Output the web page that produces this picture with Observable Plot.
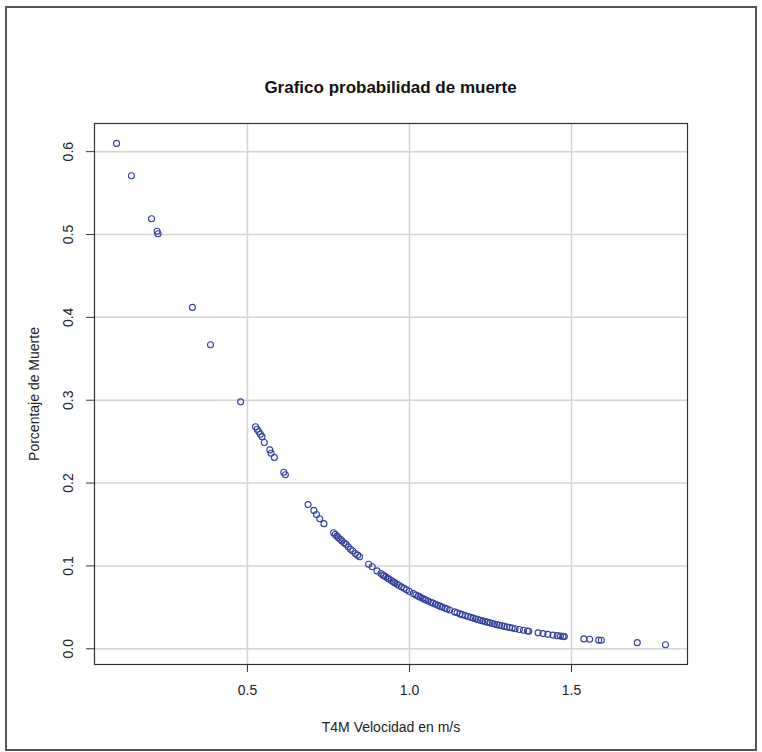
<!DOCTYPE html>
<html>
<head>
<meta charset="utf-8">
<script src="https://cdn.jsdelivr.net/npm/d3@7"></script>
<script src="https://cdn.jsdelivr.net/npm/@observablehq/plot@0.6"></script>
<style>
  html, body { margin: 0; padding: 0; background: #fff; }
  #wrap { position: relative; width: 762px; height: 752px; overflow: hidden; background: #fff; }
  #border { position: absolute; left: 5px; top: 6px; width: 748px; height: 741px; border: 2px solid #555; pointer-events: none; }
  #title { position: absolute; left: 94px; width: 593px; top: 78px; line-height: 20px; text-align: center;
           font-family: "Liberation Sans", Arial, sans-serif; font-weight: bold; font-size: 17px; color: #111; }
</style>
</head>
<body>
<div id="wrap">
  <div id="chart"></div>
  <div id="title"></div>
  <div id="border"></div>
</div>
<script>
const titulo = "Grafico probabilidad de muerte";
const xLabel = "T4M Velocidad en m/s";
const yLabel = "Porcentaje de Muerte";
const xTicks = [0.5, 1.0, 1.5];
const yTicks = [0.0, 0.1, 0.2, 0.3, 0.4, 0.5, 0.6];

const velocidad = [
  0.096, 0.142, 0.204, 0.221, 0.224, 0.330, 0.386, 0.479,
  0.525, 0.530, 0.535, 0.540, 0.545, 0.552, 0.569, 0.573, 0.583, 0.612, 0.617,
  0.687, 0.705, 0.713, 0.723, 0.736,
  0.766, 0.771, 0.776, 0.781, 0.787, 0.792, 0.798, 0.804, 0.811, 0.818, 0.825, 0.833, 0.840, 0.846,
  0.874, 0.885, 0.900,
  0.912, 0.918, 0.921, 0.927, 0.933, 0.937, 0.944, 0.950, 0.955, 0.962,
  0.968, 0.975, 0.983, 0.991, 1.000, 1.012, 1.020, 1.027, 1.033, 1.040,
  1.046, 1.051, 1.058, 1.066, 1.072, 1.080, 1.088, 1.094, 1.101, 1.110,
  1.116, 1.124, 1.139, 1.147, 1.156, 1.163, 1.172, 1.181, 1.189, 1.196,
  1.204, 1.211, 1.218, 1.226, 1.233, 1.240, 1.248, 1.256, 1.262, 1.270,
  1.278, 1.285, 1.293, 1.301, 1.309, 1.317, 1.326, 1.339, 1.352, 1.364, 1.368,
  1.397, 1.412, 1.427, 1.443, 1.456, 1.466, 1.474, 1.478,
  1.538, 1.556, 1.584, 1.592, 1.703, 1.790
];

const probabilidad = [
  0.610, 0.571, 0.519, 0.504, 0.501, 0.412, 0.367, 0.298,
  0.268, 0.265, 0.262, 0.259, 0.256, 0.249, 0.240, 0.236, 0.231, 0.213, 0.210,
  0.174, 0.167, 0.162, 0.157, 0.151,
  0.140, 0.138, 0.136, 0.134, 0.132, 0.130, 0.128, 0.126, 0.123, 0.120, 0.118, 0.115, 0.113, 0.111,
  0.102, 0.099, 0.094,
  0.0908, 0.0891, 0.0882, 0.0868, 0.0851, 0.0841, 0.0823, 0.0808, 0.0795, 0.0778,
  0.0764, 0.0747, 0.0729, 0.0711, 0.0692, 0.0666, 0.0649, 0.0635, 0.0623, 0.0610,
  0.0598, 0.0589, 0.0576, 0.0561, 0.0551, 0.0537, 0.0524, 0.0514, 0.0503, 0.0488,
  0.0479, 0.0467, 0.0445, 0.0434, 0.0421, 0.0412, 0.0400, 0.0389, 0.0379, 0.0370,
  0.0361, 0.0353, 0.0345, 0.0336, 0.0328, 0.0321, 0.0313, 0.0305, 0.0299, 0.0291,
  0.0284, 0.0277, 0.0270, 0.0263, 0.0256, 0.0250, 0.0242, 0.0232, 0.0223, 0.0214, 0.0211,
  0.0192, 0.0183, 0.0174, 0.0165, 0.0158, 0.0153, 0.0149, 0.0147,
  0.0119, 0.0114, 0.0104, 0.0102, 0.0074, 0.0049
];

const datos = velocidad.map((v, i) => ({v, p: probabilidad[i]}));
const fmt = d3.format(".1f");
const font = "'Liberation Sans', Arial, sans-serif";

document.getElementById("title").textContent = titulo;

const chart = Plot.plot({
  width: 762,
  height: 752,
  marginLeft: 94,
  marginRight: 75,
  marginTop: 123,
  marginBottom: 88,
  x: {domain: [0.028, 1.858], label: null},
  y: {domain: [-0.019, 0.634], label: null},
  style: {fontFamily: font, fontSize: "14px", color: "#222", background: "transparent", overflow: "visible"},
  marks: [
    Plot.gridX(xTicks, {stroke: "#d3d3d3", strokeOpacity: 1, strokeWidth: 1.5}),
    Plot.gridY(yTicks, {stroke: "#d3d3d3", strokeOpacity: 1, strokeWidth: 1.5}),
    Plot.frame({stroke: "#333", strokeWidth: 1.2}),
    Plot.axisX(xTicks, {tickSize: 8, tickPadding: 13, tickFormat: fmt, fontSize: 14, label: null, stroke: "#333", fill: "#222"}),
    Plot.axisY(yTicks, {tickSize: 8, tickFormat: () => "", label: null, stroke: "#333"}),
    Plot.text(yTicks, {y: d => d, text: d => fmt(d), frameAnchor: "left", dx: -26, rotate: -90, textAnchor: "middle", lineAnchor: "middle", fontSize: 14, fill: "#222"}),
    Plot.text([xLabel], {frameAnchor: "bottom", dy: 63, textAnchor: "middle", lineAnchor: "middle", fontSize: 14, fill: "#222"}),
    Plot.text([yLabel], {frameAnchor: "left", dx: -60, rotate: -90, textAnchor: "middle", lineAnchor: "middle", fontSize: 14, fill: "#222"}),
    Plot.dot(datos, {x: "v", y: "p", r: 3, stroke: "#33409e", strokeWidth: 1.1, fill: "none"})
  ]
});
document.getElementById("chart").appendChild(chart);
</script>
</body>
</html>
